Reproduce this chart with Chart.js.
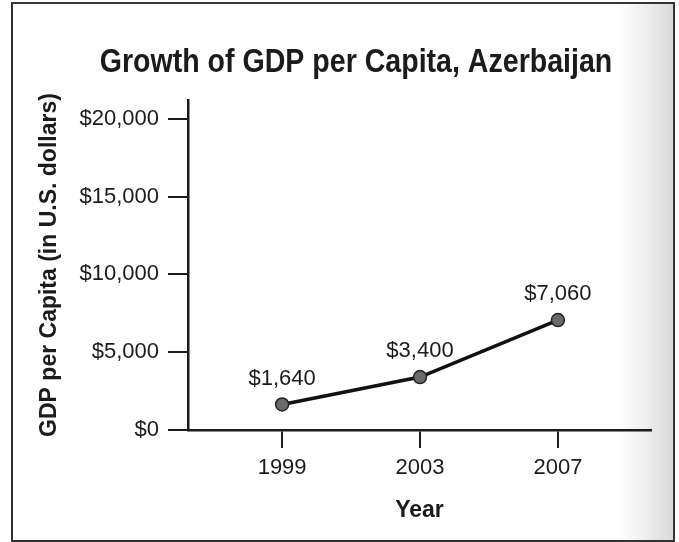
<!DOCTYPE html>
<html>
<head>
<meta charset="utf-8">
<title>Growth of GDP per Capita, Azerbaijan</title>
<script src="https://cdn.jsdelivr.net/npm/chart.js@4"></script>
<style>
    html, body { margin: 0; padding: 0; background: #fff; }
    #marco {
        position: absolute;
        left: 11px; top: 2px;
        width: 660px; height: 536px;
        border: 2px solid #333;
        background: linear-gradient(to right, #fff 0px, #fff 605px, #ececec 635px, #dadada 660px);
    }
    #grafica { position: absolute; left: 0; top: 0; }
</style>
</head>
<body>
<div id="marco"></div>
<canvas id="grafica" width="679" height="542"></canvas>
<script>
// =============================
// DATOS
// =============================
const years = [1999, 2003, 2007];
const gdpPerCapita = [1640, 3400, 7060];
const yTicks = [0, 5000, 10000, 15000, 20000];
const xTicks = [1999, 2003, 2007];

const TITLE = "Growth of GDP per Capita, Azerbaijan";
const FONT = "'Liberation Sans', Arial, Helvetica, sans-serif";
const INK = "#1b1b1b";

const money = v => "$" + v.toLocaleString("en-US");

// =============================
// PLUGINS
// =============================
// title drawn by hand (squeezed a bit, the print uses a condensed face)
const titlePlugin = {
    id: "tituloImpreso",
    afterDraw(chart) {
        const ctx = chart.ctx;
        ctx.save();
        ctx.translate(356, 63);
        ctx.scale(0.84, 1);
        ctx.font = "bold 34px " + FONT;
        ctx.fillStyle = INK;
        ctx.textAlign = "center";
        ctx.textBaseline = "middle";
        ctx.fillText(TITLE, 0, 0);
        ctx.restore();
    }
};

// value labels above each point
const valueLabels = {
    id: "etiquetasValor",
    afterDatasetsDraw(chart) {
        const ctx = chart.ctx;
        const meta = chart.getDatasetMeta(0);
        ctx.save();
        ctx.font = "22px " + FONT;
        ctx.fillStyle = INK;
        ctx.textAlign = "center";
        ctx.textBaseline = "middle";
        meta.data.forEach((pt, i) => {
            ctx.fillText(money(gdpPerCapita[i]), pt.x, pt.y - 26);
        });
        ctx.restore();
    }
};

// =============================
// GRAFICA
// =============================
new Chart(document.getElementById("grafica"), {
    type: "line",
    data: {
        datasets: [{
            data: years.map((y, i) => ({ x: y, y: gdpPerCapita[i] })),
            borderColor: "#111",
            borderWidth: 3.5,
            pointRadius: 6.5,
            pointBackgroundColor: "#6a6a6a",
            pointBorderColor: "#222",
            pointBorderWidth: 1.5,
            tension: 0,
            fill: false
        }]
    },
    options: {
        responsive: false,
        animation: false,
        layout: { padding: { left: 0, right: 28, top: 100, bottom: 0 } },
        plugins: {
            legend: { display: false },
            tooltip: { enabled: false }
        },
        scales: {
            x: {
                type: "linear",
                min: 1996.27,
                max: 2009.7,
                afterBuildTicks: s => { s.ticks = xTicks.map(v => ({ value: v })); },
                afterFit: s => { s.height = 112; },
                border: { color: INK, width: 2.5 },
                grid: { drawOnChartArea: false, drawTicks: true, tickLength: 18, color: INK, lineWidth: 2 },
                ticks: {
                    color: INK,
                    padding: 7,
                    font: { family: FONT, size: 22 },
                    callback: v => String(v)
                },
                title: {
                    display: true,
                    text: "Year",
                    color: INK,
                    padding: { top: 0, bottom: 18 },
                    font: { family: FONT, size: 23, weight: "bold" }
                }
            },
            y: {
                min: 0,
                max: 21200,
                afterBuildTicks: s => { s.ticks = yTicks.map(v => ({ value: v })); },
                afterFit: s => { s.width = 188; },
                border: { color: INK, width: 2.5 },
                grid: { drawOnChartArea: false, drawTicks: true, tickLength: 20, color: INK, lineWidth: 2 },
                ticks: {
                    color: INK,
                    padding: 9,
                    font: { family: FONT, size: 22 },
                    callback: v => money(v)
                },
                title: {
                    display: true,
                    text: "GDP per Capita (in U.S. dollars)",
                    color: INK,
                    padding: { top: 36, bottom: 0 },
                    font: { family: FONT, size: 23, weight: "bold" }
                }
            }
        }
    },
    plugins: [titlePlugin, valueLabels]
});
</script>
</body>
</html>
